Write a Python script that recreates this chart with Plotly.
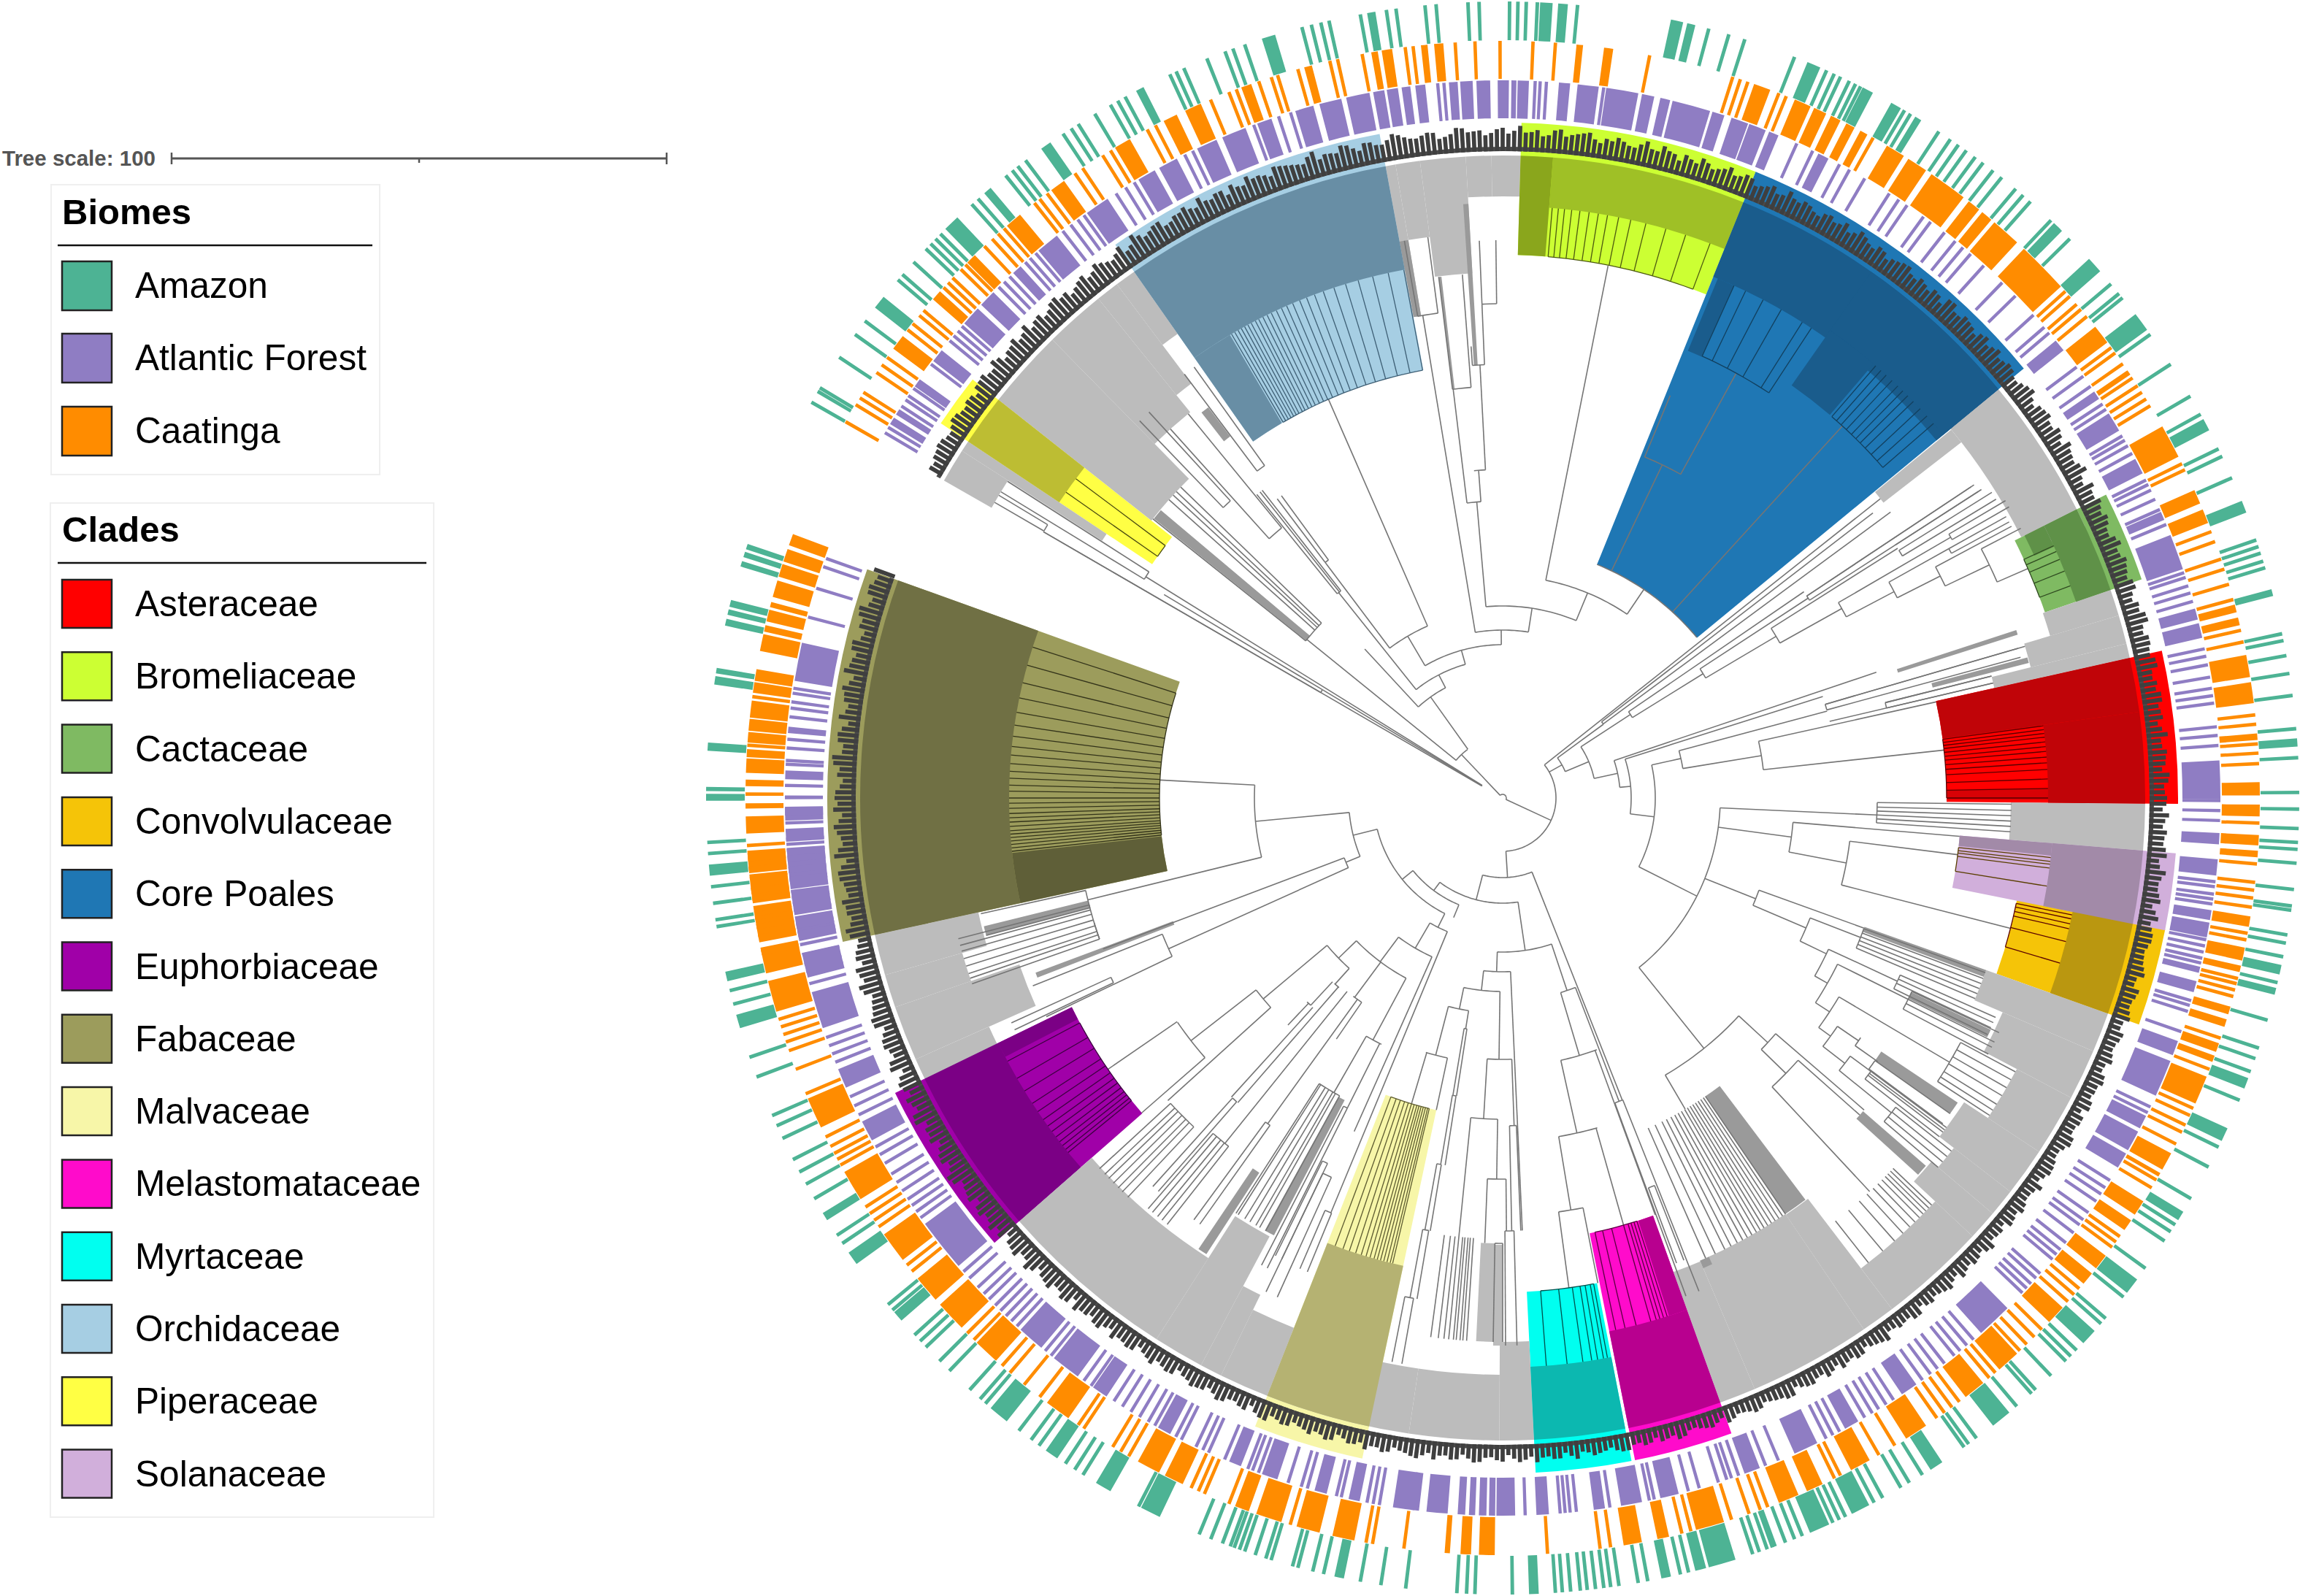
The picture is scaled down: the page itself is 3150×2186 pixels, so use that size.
import numpy as np
import plotly.graph_objects as go

W, H = 3150, 2186

# biome rings: single ticks in degrees, and wider blocks as [from, to]
AMAZON_TICKS = [89.5, 88.9, 88.3, 87.5, 84.6, 73.5, 75.0, 72.3, 68.5, 66.0, 65.4, 64.9, 64.2, 63.7, 63.3, 63.0, 59.7, 59.2,
    56.8, 55.8, 55.1, 54.4, 53.6, 52.9, 52.0, 51.2, 49.9, 49.2, 48.5, 46.5, 45.7, 44.6, 40.2, 39.3, 38.9, 35.6, 33.0, 30.3, 28.8,
    26.0, 25.4, 23.7, 18.9, 18.4, 17.9, 17.3, 16.8, 11.9, 11.4, 10.3, 9.0, 7.4, 5.0, 2.9, 0.4, -0.8, -2.2, -3.2, -3.7, -4.7,
    -6.6, -7.8, -8.1, -9.9, -10.5, -11.5, -13.4, -16.2, -18.3, -19.1, -20.1, -22.3, -26.0, -27.6, -30.2, -32.4, -33.0, -33.8,
    -36.2, -38.8, -40.8, -41.3, -43.9, -44.5, -45.0, -46.5, -48.0, -48.4, -49.8, -53.5, -54.2, -54.6, -58.2, -59.3, -60.0,
    -61.5, -62.2, -64.5, -65.0, -65.5, -67.9, -68.5, -69.2, -70.0, -70.2, -70.6, -71.2, -71.7, -77.1, -76.5, -79.5, -80.2,
    -81.6, -82.2, -82.7, -83.3, -83.9, -84.4, -85.1, -85.7, -86.2, -89.3, -92.0, -92.6, -93.3, -97.0, -98.8, -100.3, -103.0,
    -103.8, -104.9, -105.3, -106.9, -107.3, -108.1, -108.9, -109.3, -109.7, -110.0, -110.6, -111.5, -112.4, -117.2, -121.8,
    -122.5, -123.3, -125.6, -126.3, -127.4, -130.5, -131.0, -132.0, -134.0, -135.0, -136.4, -137.0, -137.6, -140.0, -140.5,
    -146.0, -146.7, -149.8, -151.0, -152.0, -153.0, -154.7, -155.7, -156.5, -159.5, -161.0, -165.0, -166.0, -170.7, -171.2,
    -172.4, -173.6, -176.0, -176.8, 150.2, 149.3, 149.0, 146.4, 144.4, 143.2, 139.4, 138.9, 137.7, 136.4, 135.9, 135.4,
    134.9, 131.8, 131.2, 128.6, 128.0, 127.5, 126.8, 123.5, 122.8, 122.2, 120.8, 119.5, 118.9, 118.3, 114.7, 114.2, 113.6,
    111.8, 110.4, 109.8, 108.9, 104.6, 103.9, 103.2, 102.6, 100.3, 98.4, 97.7, 95.6, 94.8, 92.5, 91.7]
AMAZON_BLOCKS = [[87.3, 86.4], [86.0, 85.3], [77.8, 76.9], [76.6, 76.0], [67.5, 66.5], [62.9, 62.3], [60.8, 60.0], [58.8, 58.3],
    [46.2, 45.4], [42.6, 41.4], [37.4, 36.0], [28.4, 27.5], [21.9, 21.0], [15.2, 14.7], [4.3, 3.7], [-12.1, -12.8],
    [-13.8, -14.3], [-20.6, -21.4], [-24.5, -25.5], [-31.3, -32.0], [-37.2, -38.4], [-42.0, -43.2], [-50.5, -52.0],
    [-56.5, -57.5], [-62.6, -64.0], [-65.8, -67.3], [-73.0, -75.0], [-75.2, -76.0], [-77.8, -78.5], [-87.4, -88.1],
    [-101.5, -102.2], [-115.5, -117.0], [-119.5, -120.7], [-124.0, -125.0], [-128.5, -130.0], [-139.0, -139.8],
    [-144.2, -145.2], [-148.0, -148.6], [-163.2, -164.2], [-166.7, -167.4], [-174.4, -175.2], [179.2, 179.5], [179.7, 180.2],
    [176.0, 176.6], [171.2, 171.8], [170.6, 171.0], [165.6, 166.1], [166.3, 166.7], [167.0, 167.5], [161.4, 161.8],
    [162.0, 162.4], [162.7, 163.1], [141.0, 142.0], [133.2, 134.4], [130.0, 130.6], [124.6, 125.4], [116.8, 117.4],
    [106.6, 107.6], [99.2, 99.8]]

ATLANTIC_TICKS = [87.4, 87.0, 86.5, 81.9, 65.8, 64.4, 62.0, 61.1, 59.7, 57.4, 56.5, 55.7, 54.1, 53.4, 52.0, 50.9, 50.1, 49.3,
    47.9, 45.9, 44.4, 42.3, 41.0, 40.4, 36.9, 36.0, 35.0, 33.3, 32.8, 30.3, 29.9, 29.4, 28.7, 26.3, 25.9, 25.4, 24.6, 23.7, 22.4,
    18.3, 17.9, 17.2, 16.6, 15.9, 12.0, 11.4, 10.7, 9.7, 8.8, 8.2, 7.6, 5.7, 5.0, 4.2, -0.2, -1.0, -1.8, -6.7, -7.1, -7.7, -8.1,
    -8.5, -11.4, -11.9, -12.4, -12.9, -13.3, -16.4, -16.8, -17.3, -19.0, -25.5, -26.0, -32.2, -32.9, -33.5, -34.2, -35.3, -36.0,
    -36.5, -37.3, -38.3, -39.0, -39.5, -40.0, -41.5, -42.0, -42.6, -43.1, -43.6, -49.0, -49.7, -50.4, -51.0, -52.0, -52.7,
    -53.4, -54.2, -57.0, -57.7, -58.4, -59.0, -59.7, -62.0, -62.6, -63.2, -67.4, -68.5, -71.4, -70.8, -71.8, -72.5, -74.1,
    -75.0, -77.8, -78.2, -81.4, -85.0, -85.4, -84.1, -84.6, -88.2, -97.2, -99.9, -100.4, -100.9, -103.0, -103.4, -105.8,
    -106.3, -107.4, -109.9, -110.4, -110.8, -112.8, -114.2, -114.7, -115.3, -116.6, -117.1, -119.0, -119.6, -120.4, -121.2,
    -122.0, -122.8, -125.0, -125.7, -129.0, -129.6, -132.6, -133.2, -133.8, -134.4, -135.0, -135.7, -136.3, -137.0, -138.0,
    -138.7, -144.2, -144.8, -145.4, -146.0, -146.8, -147.6, -148.4, -149.4, -150.2, -150.9, -153.8, -154.6, -155.4, -158.4,
    -159.1, -159.8, -160.5, -165.0, 161.2, 160.5, 163.0, 165.4, 171.2, 171.6, 172.3, 172.8, 173.5, 175.3, 176.0, 177.0, 177.3,
    179.0, 182.0, 182.6, 183.3, 183.7, 184.2, 187.5, 188.0, 188.5, 189.0, 191.8, 192.6, 193.4, 194.0, 148.9, 149.4, 146.9,
    146.3, 145.9, 145.2, 142.8, 140.4, 139.9, 139.4, 138.9, 134.6, 134.0, 133.4, 131.7, 131.2, 130.6, 127.8, 127.0, 126.3,
    125.7, 122.6, 121.7, 120.9, 116.3, 115.6, 110.3, 108.2, 107.2, 95.2, 94.7]
ATLANTIC_BLOCKS = [[90.4, 89.5], [89.3, 88.9], [88.8, 87.9], [85.5, 84.6], [84.0, 82.3], [81.7, 79.1], [78.8, 77.8], [77.3, 76.5],
    [76.3, 73.2], [73.0, 72.0], [71.4, 70.0], [69.9, 68.5], [68.2, 67.4], [63.9, 63.0], [39.6, 38.6], [34.5, 33.8],
    [32.4, 30.8], [28.2, 26.9], [23.5, 22.8], [21.5, 18.6], [15.3, 14.4], [14.1, 12.9], [3.0, -0.1], [-2.8, -3.7], [-4.9, -6.2],
    [-9.0, -9.8], [-10.0, -11.2], [-13.6, -14.1], [-14.8, -15.7], [-19.8, -21.0], [-21.5, -24.5], [-26.3, -27.4], [-27.7, -29.4],
    [-29.7, -31.0], [-45.3, -48.2], [-54.8, -56.2], [-60.3, -61.5], [-64.0, -66.0], [-69.0, -70.3], [-75.8, -77.3], [-78.8, -80.5],
    [-81.8, -82.7], [-86.3, -87.3], [-89.0, -90.5], [-90.6, -91.1], [-91.3, -91.9], [-92.2, -92.7], [-93.0, -93.6], [-94.4, -96.1],
    [-96.7, -98.8], [-101.5, -102.4], [-104.2, -105.2], [-108.3, -109.6], [-111.4, -112.4], [-117.6, -118.7], [-123.5, -124.8],
    [-126.3, -128.7], [-130.0, -132.2], [-139.3, -143.6], [-151.5, -153.2], [-156.2, -157.8], [-161.3, -164.3], [-165.5, -167.5],
    [-168.8, -170.0], [-170.6, -172.6], [-173.3, -176.0], [-176.5, -177.4], [-178.2, -179.3], [167.5, 170.6], [174.3, 174.8],
    [177.8, 178.5], [178.9, 179.1], [179.8, 180.1], [180.8, 181.4], [184.6, 185.1], [185.5, 186.0], [186.3, 187.3], [189.5, 190.5],
    [190.7, 191.5], [148.0, 148.6], [147.2, 147.7], [144.3, 145.0], [141.4, 142.5], [137.0, 138.6], [135.2, 136.6], [132.2, 133.0],
    [128.4, 130.3], [123.4, 125.4], [119.0, 120.5], [117.0, 118.6], [113.5, 115.2], [111.0, 113.0], [108.8, 110.0], [105.3, 106.8],
    [103.0, 104.8], [100.7, 102.6], [99.5, 100.4], [98.4, 99.3], [97.4, 98.1], [96.2, 97.0], [93.6, 94.3], [92.4, 93.4], [91.0, 92.1]]

CAATINGA_TICKS = [90.2, 87.7, 86.0, 78.8, 72.3, 71.7, 71.1, 68.6, 68.0, 60.7, 42.0, 41.5, 40.7, 40.2, 39.5, 36.5, 36.0, 35.0,
    33.7, 33.0, 32.4, 31.8, 31.2, 26.2, 25.7, 20.6, 19.8, 18.4, 17.6, 16.4, 15.2, 12.8, 11.9, 6.3, 5.6, 4.1, 3.4, 2.6, -1.9,
    -5.0, -6.4, -7.0, -7.6, -8.3, -10.3, -10.8, -13.8, -14.2, -14.7, -15.2, -18.5, -21.0, -24.2, -24.8, -25.6, -26.2, -27.2,
    -30.3, -31.0, -35.4, -35.9, -36.4, -40.4, -41.0, -41.7, -44.6, -45.4, -46.2, -46.9, -49.4, -50.0, -52.9, -53.6, -54.3,
    -55.0, -58.8, -60.2, -63.5, -64.0, -69.5, -70.1, -71.0, -72.4, -75.6, -76.3, -81.8, -82.6, -86.6, -97.5, -99.9, -100.4,
    -106.3, -111.2, -113.2, -113.7, -114.3, -119.6, -120.3, -121.0, -123.6, -124.1, -127.7, -129.2, -130.6, -131.4, -134.3,
    -135.0, -141.3, -141.9, -145.5, -146.1, -146.7, -147.3, -151.0, -151.5, -152.0, -152.6, -153.4, -157.0, -159.0, -160.5,
    -161.2, -161.8, -162.4, -163.0, 179.7, 172.3, 183.6, 176.0, 150.2, 148.7, 148.1, 147.6, 145.8, 145.1, 144.4, 141.8, 141.2,
    140.4, 139.9, 137.6, 137.1, 136.6, 135.7, 135.2, 133.2, 132.4, 131.8, 131.2, 128.2, 127.7, 127.0, 124.4, 123.7, 121.9,
    121.2, 118.0, 117.3, 112.7, 111.2, 110.6, 108.8, 107.8, 107.3, 105.7, 103.2, 102.6, 100.7, 97.4, 96.8, 93.6, 92.1]
CAATINGA_BLOCKS = [[84.4, 83.9], [82.3, 81.6], [70.6, 69.3], [67.3, 66.0], [65.7, 64.7], [64.3, 63.5], [63.0, 62.3], [61.8, 61.2],
    [59.5, 58.0], [57.6, 56.0], [55.5, 52.5], [52.0, 51.0], [50.7, 49.8], [49.5, 47.2], [46.5, 42.5], [38.5, 37.0],
    [34.4, 34.0], [29.4, 26.8], [24.0, 22.9], [22.4, 21.3], [14.8, 14.2], [13.8, 13.2], [10.9, 9.2], [8.8, 7.2], [4.9, 4.4],
    [1.2, 0.2], [-0.5, -1.4], [-2.8, -3.6], [-4.0, -4.5], [-9.0, -9.8], [-11.4, -12.4], [-12.8, -13.3], [-16.0, -16.6],
    [-17.0, -17.6], [-18.9, -19.6], [-19.9, -20.4], [-21.6, -23.8], [-28.0, -29.4], [-29.7, -30.0], [-32.2, -33.4],
    [-33.9, -34.8], [-37.2, -38.4], [-38.9, -39.9], [-42.3, -43.8], [-47.2, -49.0], [-50.6, -52.3], [-56.0, -57.8], [-61.0, -62.6],
    [-65.0, -66.3], [-67.0, -68.6], [-73.0, -75.2], [-77.3, -78.2], [-79.4, -80.8], [-90.6, -91.8], [-92.4, -93.2],
    [-94.0, -94.4], [-101.3, -103.0], [-104.0, -105.8], [-107.0, -109.0], [-109.6, -110.7], [-115.0, -116.5], [-117.0, -118.8],
    [-125.0, -127.0], [-132.0, -134.0], [-135.6, -138.0], [-138.5, -140.6], [-142.4, -144.8], [-148.0, -150.4], [-154.2, -156.6],
    [-163.6, -166.0], [-166.6, -168.6], [-169.4, -171.4], [-172.0, -174.0], [-174.5, -176.0], [159.6, 160.5], [160.8, 161.8],
    [162.0, 163.0], [163.3, 164.6], [165.0, 165.4], [165.6, 166.5], [166.8, 167.3], [167.5, 168.8], [170.2, 171.1], [171.2, 172.0],
    [172.6, 173.9], [174.0, 174.9], [175.0, 175.8], [176.3, 176.9], [177.0, 178.1], [178.6, 179.1], [180.4, 180.8], [181.4, 182.7],
    [184.2, 184.8], [185.2, 185.7], [185.8, 186.1], [186.8, 187.3], [187.5, 187.8], [188.2, 188.7], [189.0, 189.3], [189.6, 190.0],
    [190.4, 191.0], [191.5, 192.0], [142.4, 143.6], [138.0, 138.8], [134.2, 135.0], [129.6, 130.9], [125.4, 126.6], [119.5, 120.8],
    [115.5, 116.6], [113.5, 114.8], [109.4, 110.2], [104.6, 105.2], [99.5, 100.0], [98.4, 99.2], [95.7, 96.2], [94.5, 95.2]]

# tip bar heights above the white ring, read per half degree: first list on the whole degrees from 160 round to 510 (=150),
# second one on the half degrees in between
TIP_THETA_A = list(range(160, 511))
TIP_HEIGHT_A = [30, 24, 28, 22, 31, 26, 20, 29, 25, 33, 23, 27, 19, 30, 24, 28, 21, 32, 26, 22, 29, 31, 24, 27, 20, 33, 25, 29, 22, 30, 26,
    24, 28, 21, 27, 31, 24, 29, 22, 26, 30, 23, 28, 20, 32, 25, 27, 30, 22, 34, 26, 29, 24, 31, 27, 33, 25, 30, 28, 24,
    32, 29, 26, 31, 23, 28, 25, 30, 22, 27, 29, 24, 26, 21, 28, 23, 25, 20, 27, 22, 24, 19, 26, 23, 21, 25, 18, 24, 22, 27,
    20, 23, 19, 25, 21, 24, 18, 22, 26, 20, 23, 19, 24, 21, 25, 18, 22, 20, 24, 17, 23, 19, 21, 25, 18, 22, 20, 16, 23, 19,
    21, 24, 17, 20, 22, 18, 23, 16, 21, 19, 24, 17, 20, 22, 18, 21, 25, 19, 23, 17, 20, 24, 18, 22, 19, 23, 16, 21, 18, 24,
    20, 17, 22, 19, 25, 18, 21, 23, 17, 20, 24, 19, 22, 18, 26, 20, 23, 17, 21, 25, 19, 22, 24, 18, 20, 23, 17, 21, 19, 24,
    18, 22, 20, 25, 17, 23, 19, 21, 24, 18, 22, 26, 20, 23, 19, 27, 21, 25, 22, 18, 24, 20, 28, 23, 26, 19, 22, 25, 21, 27,
    24, 20, 28, 23, 26, 22, 30, 25, 21, 27, 24, 29, 22, 26, 20, 28, 25, 23, 30, 21, 27, 24, 31, 26, 22, 29, 25, 23, 28, 20,
    26, 24, 30, 22, 27, 25, 29, 23, 31, 26, 21, 28, 24, 30, 25, 27, 22, 29, 26, 32, 24, 28, 23, 30, 27, 25, 31, 24, 29, 26,
    33, 25, 28, 23, 30, 27, 34, 26, 29, 24, 32, 28, 25, 31, 27, 33, 24, 30, 26, 28, 32, 25, 29, 27, 34, 23, 30, 28, 26, 33,
    29, 25, 31, 27, 35, 28, 24, 32, 26, 30, 34, 27, 29, 25, 33, 31, 26, 36, 28, 30, 25, 34, 29, 32, 27, 35, 24, 31, 28, 33,
    26, 30, 35, 27, 32, 25, 29, 34, 28, 31, 26, 33, 30, 27, 24, 29, 25, 22, 27, 23, 20]
TIP_THETA_B = [t + 0.5 for t in TIP_THETA_A[:-1]]
TIP_HEIGHT_B = [22, 29, 19, 33, 24, 17, 30, 21, 27, 18, 31, 26, 22, 16, 29, 20, 34, 23, 18, 28, 25, 19, 31, 22, 27, 17, 30, 24, 20, 26,
    21, 32, 18, 25, 20, 28, 33, 19, 24, 31, 18, 27, 23, 29, 17, 30, 21, 26, 32, 20, 25, 18, 29, 23, 36, 22, 27, 19, 31, 26,
    23, 18, 28, 22, 33, 19, 27, 21, 29, 17, 24, 20, 28, 18, 22, 26, 16, 23, 19, 25, 15, 21, 24, 17, 27, 19, 22, 15, 26, 18,
    24, 16, 21, 19, 26, 15, 23, 18, 20, 25, 16, 21, 26, 17, 19, 23, 15, 25, 18, 21, 14, 24, 17, 19, 22, 15, 25, 18, 21, 16,
    24, 18, 22, 15, 20, 25, 17, 19, 23, 15, 21, 18, 24, 16, 20, 25, 15, 22, 18, 24, 16, 20, 23, 15, 21, 26, 17, 19, 24, 15,
    22, 19, 25, 16, 21, 23, 17, 26, 19, 15, 22, 25, 18, 20, 16, 24, 21, 17, 26, 19, 22, 15, 23, 20, 25, 16, 24, 18, 22, 17,
    25, 19, 23, 16, 26, 20, 18, 24, 21, 27, 16, 23, 20, 28, 17, 25, 22, 19, 27, 23, 21, 26, 18, 24, 20, 29, 17, 23, 27, 21,
    19, 29, 22, 26, 20, 31, 23, 18, 28, 21, 26, 23, 30, 19, 25, 22, 29, 24, 18, 32, 22, 26, 20, 29, 23, 27, 18, 31, 24, 21,
    28, 22, 26, 30, 20, 27, 23, 32, 19, 28, 25, 22, 31, 27, 20, 29, 24, 33, 22, 26, 30, 21, 28, 25, 34, 23, 27, 21, 31, 24,
    28, 22, 32, 26, 20, 29, 25, 35, 23, 28, 26, 21, 33, 29, 24, 31, 22, 27, 35, 24, 30, 22, 28, 33, 26, 21, 31, 25, 29, 36,
    24, 30, 22, 33, 26, 29, 37, 24, 28, 32, 23, 30, 35, 27, 22, 31, 28, 25, 34, 30, 24, 33, 26, 38, 23, 29, 27, 35, 25, 30,
    22, 28, 33, 24, 30, 36, 26, 29, 23, 35, 27, 31, 22, 28, 25, 30, 21, 26, 24, 18]

# clade highlights: from, to, inner radius
CLADE_NAMES = ["Asteraceae", "Bromeliaceae", "Cactaceae", "Convolvulaceae", "Core Poales", "Euphorbiaceae", "Fabaceae", "Malvaceae",
    "Melastomataceae", "Myrtaceae", "Orchidaceae", "Piperaceae", "Solanaceae"]
CLADE_COLORS = ["#ff0000", "#ccff33", "#7fba62", "#f5c408", "#1f77b4", "#a000a8", "#9c9c5c", "#f7f6a8", "#ff0bcb", "#00fff0", "#a6cee3",
    "#ffff44", "#d1afdb"]
CLADE_T0 = [-0.5, 68.0, 18.9, -19.6, 39.5, 205.9, 160.2, 248.5, -78.7, -87.2, 100.5, 141.7, -11.3]
CLADE_T1 = [12.6, 88.4, 26.7, -11.2, 68.0, 221.2, 192.3, 258.0, -70.2, -79.0, 125.0, 146.3, -4.7]
CLADE_RIN = [608, 744, 785, 718, 345, 656, 470, 437, 608, 677, 596, 577, 628]

# dense tip zones inside the clades: from, to, inner, outer, colour
DENSE_CLADE = [
    [-0.5, 7.7, 747, 880, "#c00408"], [7.7, 12.6, 608, 880, "#c00408"], [-0.2, 1.0, 608, 747, "#d80206"],
    [68.0, 85.5, 811, 880, "#9fc026"], [85.5, 88.4, 744, 880, "#8aa61c"],
    [18.9, 26.7, 830, 880, "#5f9148"], [24.5, 26.7, 800, 830, "#5f9148"],
    [-19.6, -11.2, 796, 880, "#ba9710"],
    [39.5, 68.0, 770, 880, "#1a5c8c"], [39.5, 55.0, 782, 880, "#1a5c8c"], [49.5, 55.0, 690, 782, "#1a5c8c"], [65.7, 67.5, 663, 770, "#1a5c8c"],
    [205.9, 221.2, 768, 880, "#7b0085"], [207.5, 205.9, 656, 768, "#7b0085"],
    [160.2, 192.3, 676, 880, "#707044"], [186.4, 192.3, 470, 676, "#5f5f38"],
    [248.5, 258.0, 655, 880, "#b5b272"],
    [-78.7, -70.2, 745, 880, "#b8008f"], [-72.2, -70.2, 608, 745, "#b8008f"],
    [-87.2, -79.0, 780, 880, "#0cb8b0"],
    [100.5, 125.0, 736, 880, "#688ea5"], [120.5, 125.0, 596, 736, "#688ea5"],
    [141.7, 146.3, 730, 880, "#bdbd33"],
    [-11.3, -4.7, 755, 880, "#a28aa8"], [-6.0, -4.7, 628, 755, "#a28aa8"]]

# grey tip zones between the clades: from, to, inner radius
GREY_T0 = [26.7, 25.0, 16.5, 13.9, 12.6, -4.7, -23.2, -27.8, -33.4, -37.8, -40.3, -43.0, -52.7, -55.8, -66.9, -70.2, -90.3, -98.4, 248.5,
    -116.0, -118.0, -122.6, -138.8, -161.0, -164.0, -156.0, -167.7, 146.3, 147.3, 129.0, 126.9, 125.0, 134.5, 88.4, 91.0, 93.3, 97.4, 99.6]
GREY_T1 = [39.5, 26.7, 18.9, 16.5, 13.9, -0.5, -19.6, -23.2, -27.8, -33.4, -37.8, -40.3, -43.0, -52.7, -55.8, -66.9, -87.2, -90.3, 261.6,
    -111.5, -116.0, -118.0, -122.6, -156.0, -161.0, -154.0, -164.0, 147.3, 150.4, 134.5, 129.0, 126.9, 141.7, 91.0, 93.3, 97.4, 99.6, 100.5]
GREY_RIN = [795, 810, 782, 745, 690, 696, 703, 745, 796, 757, 782, 770, 810, 690, 689, 690, 745, 790, 790,
    780, 757, 680, 748, 700, 770, 770, 735, 652, 805, 680, 710, 776, 613, 824, 824, 720, 775, 670]

# narrow darker strips of packed tips deep in the tree: from, to, inner, outer
STRIP_T0 = [139.9, 127.0, 93.3, 99.6, 96.7, 17.6, 14.4, -20.4, -26.3, -35.2, -42.2, -55.8, -118.8, -124.0, 193.9, -159.5, -66.9]
STRIP_T1 = [141.3, 128.0, 93.8, 100.5, 97.0, 18.1, 15.0, -19.6, -25.4, -33.8, -41.0, -53.0, -117.6, -123.0, 194.9, -158.9, -65.8]
STRIP_R0 = [345, 620, 594, 670, 564, 568, 608, 526, 620, 624, 654, 494, 467, 612, 585, 482, 689]
STRIP_R1 = [612, 670, 815, 775, 719, 740, 744, 703, 740, 750, 768, 689, 676, 745, 732, 683, 700]
PALE_T0 = [37.8, -91.0, -92.8]
PALE_T1 = [39.4, -90.0, -91.0]
PALE_R0 = [660, 612, 610]
PALE_R1 = [795, 750, 745]

# tree arcs: radius, from, to
TREE_ARCS = [[5, -24.8, 133.5], [73, 38.4, -86.5], [82, 125.9, 141], [170, 132.8, 117.4], [190, 128.6, 105.6], [210, 120.4, 90.5],
    [230, 99.4, 81.2], [263, 95, 67.5], [304, 78.8, 55.9], [345, 68, 39.6], [257, 127, 113.6], [93, 36.2, 22.9], [128, 33.2, 12.1],
    [161, 18.6, 5.2], [176, 17.6, -7.1], [209, 12.5, -26.8], [250, 15, 9.3], [359, 12.5, 6.2], [209, 34.4, 31.8], [323, 33.2, 30.6],
    [435, 32.3, 29.2], [532, 30.2, 27.8], [606, 29.2, 26.9], [672, 28.1, 25.6], [739, 27.5, 23.6], [298, -2.6, -51.2], [399, -4.8, -10.7],
    [479, -7.1, -14.4], [373, -19.8, -23.2], [452, -21.3, -25.7], [492, -24.9, -29.7], [512, -26.4, -33.2], [535, -30.6, -36],
    [555, -34.3, -37.8], [590, -33.8, -35.1], [593, -36.6, -39], [440, -42.7, -59.6], [494, -40.8, -44.2], [541, -41.6, -47],
    [109, -104.6, -68.4], [144, -126.7, -81.6], [211, -92, -71.5], [278, -73.4, -69], [368, -77.5, -69.5], [470, -80.6, -74],
    [572, -82.3, -78.9], [238, -96.3, -87.4], [265, -101.6, -90.8], [295, -104.6, -99.1], [364, -106.8, -102], [358, -93.4, -88],
    [440, -95.7, -90.9], [522, -92.3, -89.5], [158, -141, -112.3], [177, -166, -116.6], [211, -174.6, -157.7], [340, 177, 193.8],
    [232, -159.3, -155.6], [198, -120.2, -112.5], [238, -126.8, -114], [280, -135.7, -118.2], [376, -119.8, -116.2],
    [314, -140, -132], [428, -142.1, -137.9], [541, -145.4, -138.9], [343, -132.2, -130.8], [387, -133.8, -132.8], [340, -127, -124.6],
    [585, -163, -160.7], [407, 96.9, 94.2], [450, 95, 93], [594, 94, 92.4], [171, 37.6, 36.4], [288, 149.9, 149],
    [506, 67.4, 61.2], [33, 148.7, 149.9]]

# tree radial edges: angle, from radius, to radius
TREE_EDGES = [[133.5, 5, 82], [-24.8, 5, 73], [38.4, 73, 660], [29.2, 73, 93], [-86.5, 73, 109], [125.5, 82, 170], [141, 82, 345],
    [132.8, 170, 278], [117.4, 170, 190], [128.6, 190, 360], [105.6, 190, 210], [120.4, 210, 257], [90.5, 210, 230], [81.2, 230, 263],
    [99.4, 230, 670], [95, 263, 407], [67.5, 263, 304], [78.8, 304, 743], [55.9, 304, 345], [113.6, 257, 596], [127, 257, 404],
    [64.4, 345, 506], [47.6, 345, 690], [61.2, 506, 664], [67.4, 506, 597],
    [36.2, 93, 171], [22.9, 93, 128], [33.2, 128, 209], [12.1, 128, 161], [18.6, 161, 540], [5.2, 161, 176], [17.6, 176, 460], [-7.1, 176, 209],
    [12.5, 209, 250], [-26.8, 209, 298], [9.3, 250, 359], [15, 250, 460], [12.5, 359, 608], [6.2, 359, 608], [34.4, 209, 500], [31.8, 209, 323],
    [33.2, 323, 500], [30.6, 323, 435], [32.3, 435, 640], [29.2, 435, 532], [30.2, 532, 710], [27.8, 532, 606], [29.2, 606, 700],
    [26.9, 606, 672], [28.1, 672, 790], [25.6, 672, 739], [27.5, 739, 800], [23.6, 739, 785], [37.6, 171, 640], [36.4, 171, 660],
    [-2.6, 298, 513], [-7.7, 298, 399], [-21.7, 298, 373], [-4.8, 399, 628], [-10.7, 399, 479], [-7.1, 479, 628], [-14.4, 479, 718],
    [-19.8, 373, 526], [-23.2, 373, 452], [-21.3, 452, 526], [-25.7, 452, 492], [-24.9, 492, 596], [-29.7, 492, 512], [-26.4, 512, 620],
    [-33.2, 512, 535], [-30.6, 535, 711], [-36, 535, 555], [-34.3, 555, 590], [-37.8, 555, 593], [-35.1, 590, 628], [-36.6, 593, 628],
    [-39, 593, 685], [-51.2, 298, 440], [-42.7, 440, 494], [-59.6, 440, 494], [-40.8, 494, 654], [-44.2, 494, 541], [-41.6, 541, 654], [-47, 541, 737],
    [-68.4, 109, 445], [-104.6, 109, 144], [-81.6, 144, 211], [-126.7, 144, 158], [-71.5, 211, 278], [-92, 211, 238], [-73.4, 278, 368],
    [-69, 278, 445], [-77.5, 368, 470], [-69.9, 368, 608], [-74.2, 470, 608], [-80.6, 470, 572], [-78.9, 572, 677], [-82.3, 572, 677],
    [-96.3, 238, 265], [-87.4, 238, 593], [-101.6, 265, 295], [-90.8, 265, 358], [-104.6, 295, 364], [-99.1, 295, 320], [-106.6, 364, 437],
    [-102, 364, 437], [-93.4, 358, 440], [-88, 358, 449], [-95.7, 440, 604], [-90.9, 440, 522], [-92.3, 522, 610], [-89.5, 522, 593],
    [-141, 158, 177], [-112.3, 158, 177], [-116.6, 177, 198], [-166, 177, 211], [185.4, 211, 340], [177, 340, 470], [193.8, 340, 585],
    [-157.7, 211, 232], [-159.3, 232, 585], [-155.7, 232, 502], [-112.5, 198, 615], [-120.2, 198, 238], [-114, 238, 500], [-126.8, 238, 280],
    [-118.2, 280, 376], [-135.7, 280, 314], [-119.8, 376, 465], [-116.6, 376, 475], [-140, 314, 428], [-132, 314, 343], [-142.1, 428, 541],
    [-137.9, 428, 618], [-145.5, 541, 656], [-138.9, 541, 656], [-132.8, 343, 387], [-131, 343, 553], [-133.4, 387, 428], [-132.2, 387, 553],
    [-125.8, 340, 550], [-126.6, 280, 340], [-124.6, 340, 401], [-128.8, 340, 607], [149, 33, 288], [149.9, 33, 727], [149.9, 288, 727],
    [149, 288, 541], [148.2, 33, 575], [96.9, 407, 564], [94.2, 407, 450], [93, 450, 594], [92.4, 594, 677], [94, 594, 620],
    [33.6, 500, 770], [32.8, 640, 780], [16.2, 460, 745], [14.0, 540, 690], [13.2, 460, 690]]

# hollow blocks of the tree: from, to, arc radius, tip radius
BLOCK_T0 = [-0.7, 192.5, -19.9, -24.0, -25.3, -28.1, -35.2, -36.6, -38.2, -137.4, -130.8, -132.0, -126.2, -122.7, -117.3, -115.6, -113.3, -116.4,
    -158.2, -165.5, -155.4, -101.1, -100.5, -100.2, -99.6, -99.5, -91.0, -89.7, 147.4, 149.0, 132.5, 129.3, 136.0, 128.0, 125.6, 126.2, 97.6, 94.4, 90.7,
    -69.8, -68.6, -88.8, 33.6, 32.0, 30.6, 29.2, 16.2, 14.0]
BLOCK_T1 = [-3.8, 194.9, -23.0, -26.0, -27.8, -33.1, -36.5, -37.8, -40.3, -133.2, -128.2, -131.2, -125.4, -118.7, -116.6, -114.3, -112.4, -115.6,
    -154.4, -160.7, -154.6, -100.1, -99.7, -99.5, -98.9, -98.8, -90.0, -88.5, 148.6, 149.8, 133.9, 132.0, 141.4, 129.0, 126.9, 127.0, 100.0, 97.0, 92.4,
    -68.3, -69.5, -87.6, 32.8, 31.2, 29.9, 28.6, 15.2, 13.2]
BLOCK_R0 = [513, 585, 526, 596, 620, 711, 624, 628, 685, 618, 607, 553, 550, 465, 475, 570, 615, 555, 502, 585, 590, 696, 601, 509, 413, 320, 610,
    593, 575, 727, 552, 478, 345, 360, 560, 404, 670, 564, 677, 445, 570, 449, 500, 640, 710, 700, 460, 540]
BLOCK_R1 = [697, 732, 703, 739, 752, 796, 750, 757, 782, 750, 743, 716, 716, 676, 720, 750, 702, 700, 693, 770, 740, 787, 696, 601, 509, 413, 745,
    750, 805, 805, 717, 680, 613, 535, 726, 513, 775, 719, 764, 727, 680, 593, 775, 790, 800, 790, 735, 690]

# rows of parallel tip lines: from radius, to radius, angles (dark ones sit inside clades)
RAKE_R0 = [513, 526, 596, 620, 711, 628, 685, 737, 494, 618, 607, 465, 585, 604, 345, 360]
RAKE_R1 = [697, 703, 739, 752, 796, 757, 782, 810, 689, 750, 743, 676, 770, 745, 613, 535]
RAKE_THETAS = [
    [-1.4, -2.0, -2.6, -3.2], [-20.6, -21.2, -21.8, -22.4], [-24.6, -25.2], [-26.4, -27.0], [-29.0, -29.9, -30.8, -31.8, -32.5], [-36.9, -37.2],
    [-38.9, -39.6], [-51.8, -50.0, -48.5, -47.4, -46.5, -45.8, -45.2, -44.7, -44.3, -43.9, -43.5],
    [-66.2, -65.0, -63.8, -63.0, -62.2, -61.5, -60.9, -60.3, -59.7, -59.2, -58.7, -58.2, -57.7, -57.2, -56.7, -56.2, -55.8],
    [-136.6, -136.0, -135.3, -134.6, -134.0], [-130.2, -129.5, -128.9], [-122.4, -121.5, -120.8, -120.0, -119.5],
    [-164.8, -164.2, -163.4, -162.6, -161.8, -161.3], [-97.6, -96.8, -96.2, -95.7, -95.2, -94.9, -94.5, -94.2, -93.8],
    [138.2, 137.4, 136.8], [128.4]]
CLADE_RAKE_R0 = [608, 744, 785, 628, 718, 608, 677, 437, 656, 470, 577, 596, 664, 690]
CLADE_RAKE_R1 = [747, 811, 830, 755, 796, 745, 780, 655, 768, 676, 730, 736, 770, 782]
CLADE_RAKE_COLOR = ["#5a0000", "#4d5a10", "#2f4a20", "#5a3e00", "#5a0000", "#5a0040", "#00504c", "#5e5c30", "#3c0040", "#33331a", "#4a4a10", "#3e5f75",
    "#12405f", "#12405f"]
CLADE_RAKE_THETAS = [
    [0, 1, 2, 3, 3.7, 4.3, 4.9, 5.4, 5.9, 6.4, 6.8, 7.2, 7.6],
    [69.5, 72, 74, 76, 77.5, 78.7, 79.8, 80.7, 81.6, 82.5, 83.3, 84, 84.6, 85.2],
    [20.5, 22, 23.2, 24, 24.6],
    [-6.2, -6.6, -6.9, -7.3, -9.2],
    [-11.6, -12, -12.5, -13, -14.3, -16.5],
    [-78, -77, -75.8, -74.2, -73.6, -73.2, -72.8, -72.4],
    [-85.6, -83.5, -81.9, -81, -80.4, -79.8, -79.4],
    [-110.5, -109.5, -108.7, -107.9, -107.2, -106.6, -106.1, -105.6, -105.2, -104.8, -104.4, -104, -103.6, -103.3],
    [-152, -150, -148.5, -147, -146, -145, -144.2, -143.5, -142.8, -142.2, -141.7, -141.2, -140.8],
    [162.2, 164.4, 166.5, 168.3, 170, 171.5, 172.8, 174, 175, 176, 176.9, 177.7, 178.5, 179.2, 180, 180.6, 181.2, 181.8, 182.3, 182.8, 183.3, 183.8,
     184.2, 184.6, 185, 185.4, 185.8, 186.2],
    [143.2, 145],
    [100.6, 102.3, 104, 105.6, 107, 108.3, 109.5, 110.5, 111.4, 112.2, 113, 113.7, 114.3, 114.9, 115.5, 116, 116.5, 117, 117.4, 117.9, 118.3, 118.7,
     119.1, 119.5, 119.9, 120.3],
    [65.7, 64.4, 62.4, 60.3, 57.8, 56.7],
    [41, 42, 43, 44, 44.8, 45.5, 46.2, 47, 47.8, 48.5, 49.2]]

BIOME_NAMES = ["Amazon", "Atlantic Forest", "Caatinga"]
BIOME_COLORS = ["#4db394", "#8f7dc3", "#ff8c00"]
RING_R0 = [1038, 931, 985]
RING_R1 = [1091, 983, 1037]
TICK_WIDTH = 0.26


def band(t0, t1, r0, r1, color):
    # annular sectors, drawn by the polar axes
    t0, t1 = np.array(t0, float), np.array(t1, float)
    return go.Barpolar(theta=(t0 + t1) / 2, width=np.abs(t1 - t0), base=r0, r=np.array(r1, float) - np.array(r0, float),
                       marker=dict(color=color, line_width=0), hoverinfo="skip", showlegend=False)


def line_trace(edges, arcs, color="#757575", width=1.6):
    rr, tt = [], []
    for t, r0, r1 in edges:
        rr += [r0, r1, None]
        tt += [t, t, None]
    for r, t0, t1 in arcs:
        steps = int(abs(t1 - t0) / 1.0) + 2
        ang = np.linspace(t0, t1, steps).tolist()
        rr += [r] * steps + [None]
        tt += ang + [None]
    return go.Scatterpolar(r=rr, theta=tt, mode="lines", line=dict(color=color, width=width), hoverinfo="skip", showlegend=False)


fig = go.Figure()

# clade wedges, then the packed tip zones on top of them
fig.add_trace(band(CLADE_T0, CLADE_T1, CLADE_RIN, [925] * len(CLADE_T0), CLADE_COLORS))
fig.add_trace(band(GREY_T0, GREY_T1, GREY_RIN, [880] * len(GREY_T0), "#bcbcbc"))
fig.add_trace(band(PALE_T0, PALE_T1, PALE_R0, PALE_R1, "#bcbcbc"))
fig.add_trace(band(STRIP_T0, STRIP_T1, STRIP_R0, STRIP_R1, "#9a9a9a"))
fig.add_trace(band([d[0] for d in DENSE_CLADE], [d[1] for d in DENSE_CLADE], [d[2] for d in DENSE_CLADE], [d[3] for d in DENSE_CLADE],
                   [d[4] for d in DENSE_CLADE]))

# black tip bars
fig.add_trace(band([160.2], [510.4], [886], [892], "#4a4a4a"))
for thetas, heights in [(TIP_THETA_A, TIP_HEIGHT_A), (TIP_THETA_B, TIP_HEIGHT_B)]:
    fig.add_trace(go.Barpolar(theta=thetas, width=0.36, base=[886] * len(thetas), r=heights,
                              marker=dict(color="#3f3f3f", line_width=0), hoverinfo="skip", showlegend=False))

# biome rings
ring_ticks = [AMAZON_TICKS, ATLANTIC_TICKS, CAATINGA_TICKS]
ring_blocks = [AMAZON_BLOCKS, ATLANTIC_BLOCKS, CAATINGA_BLOCKS]
for i in range(3):
    fig.add_trace(go.Barpolar(theta=ring_ticks[i], width=TICK_WIDTH, base=[RING_R0[i]] * len(ring_ticks[i]),
                              r=[RING_R1[i] - RING_R0[i]] * len(ring_ticks[i]),
                              marker=dict(color=BIOME_COLORS[i], line_width=0), hoverinfo="skip", showlegend=False))
    fig.add_trace(band([b[0] for b in ring_blocks[i]], [b[1] for b in ring_blocks[i]], [RING_R0[i]] * len(ring_blocks[i]),
                       [RING_R1[i]] * len(ring_blocks[i]), BIOME_COLORS[i]))

# the tree itself
block_edges, block_arcs = [], []
for t0, t1, r0, r1 in zip(BLOCK_T0, BLOCK_T1, BLOCK_R0, BLOCK_R1):
    block_edges += [[t0, r0, r1], [t1, r0, r1]]
    block_arcs.append([r0, t0, t1])
rake_edges = []
for r0, r1, thetas in zip(RAKE_R0, RAKE_R1, RAKE_THETAS):
    rake_edges += [[t, r0, r1] for t in thetas]
fig.add_trace(line_trace(TREE_EDGES + block_edges + rake_edges, TREE_ARCS + block_arcs))

for r0, r1, color, thetas in zip(CLADE_RAKE_R0, CLADE_RAKE_R1, CLADE_RAKE_COLOR, CLADE_RAKE_THETAS):
    fig.add_trace(line_trace([[t, r0, r1] for t in thetas], [[r0, thetas[0], thetas[-1]]], color=color, width=1.3))

fig.update_layout(
    width=W, height=H, margin=dict(l=0, r=0, t=0, b=0), paper_bgcolor="white", plot_bgcolor="white", showlegend=False,
    polar=dict(
        domain=dict(x=[(2058 - 1092) / W, (2058 + 1092) / W], y=[0, 1]),
        bgcolor="white", barmode="overlay",
        radialaxis=dict(visible=False, range=[0, 1092]),
        angularaxis=dict(visible=False, rotation=0, direction="counterclockwise")))


def px(x):
    return x / W


def py(y):
    return 1 - y / H


shapes = []
notes = []


def rect(x0, y0, x1, y1, fill="rgba(0,0,0,0)", edge="#efefef", lw=2):
    shapes.append(dict(type="rect", xref="paper", yref="paper", x0=px(x0), x1=px(x1), y0=py(y0), y1=py(y1),
                       fillcolor=fill, line=dict(color=edge, width=lw)))


def hline(x0, y0, x1, y1, color="#111111", lw=2.5):
    shapes.append(dict(type="line", xref="paper", yref="paper", x0=px(x0), x1=px(x1), y0=py(y0), y1=py(y1), line=dict(color=color, width=lw)))


def note(x, y, text, size, bold=False, color="#000000"):
    notes.append(dict(xref="paper", yref="paper", x=px(x), y=py(y), text="<b>%s</b>" % text if bold else text, showarrow=False,
                      xanchor="left", yanchor="middle", font=dict(family="Liberation Sans", size=size, color=color)))


# tree scale
note(1, 217, "Tree scale: 100", 29.5, bold=True, color="#555555")
hline(235, 217, 913, 217, color="#555555", lw=3)
hline(235, 209, 235, 225, color="#555555", lw=2.5)
hline(913, 209, 913, 225, color="#555555", lw=2.5)
hline(574, 217, 574, 223, color="#555555", lw=2.5)

# biome legend
rect(70, 253, 520, 650)
note(83, 290, "Biomes", 49, bold=True)
hline(79, 336, 510, 336)
for name, color, top in zip(BIOME_NAMES, BIOME_COLORS, [358, 457, 557]):
    rect(85, top, 153, top + 67, fill=color, edge="#222222", lw=2.5)
    note(183, top + 33, name, 49.6)

# clade legend
rect(69, 689, 594, 2078)
note(83, 725, "Clades", 49, bold=True)
hline(79, 771, 584, 771)
for i, (name, color) in enumerate(zip(CLADE_NAMES, CLADE_COLORS)):
    cy = 827 + i * 99.3
    rect(85, cy - 33, 153, cy + 33, fill=color, edge="#222222", lw=2.5)
    note(183, cy, name, 49.6)

fig.update_layout(shapes=shapes, annotations=notes)

fig.write_html("out.html", config=dict(displayModeBar=False), post_script="document.body.style.margin='0';")
